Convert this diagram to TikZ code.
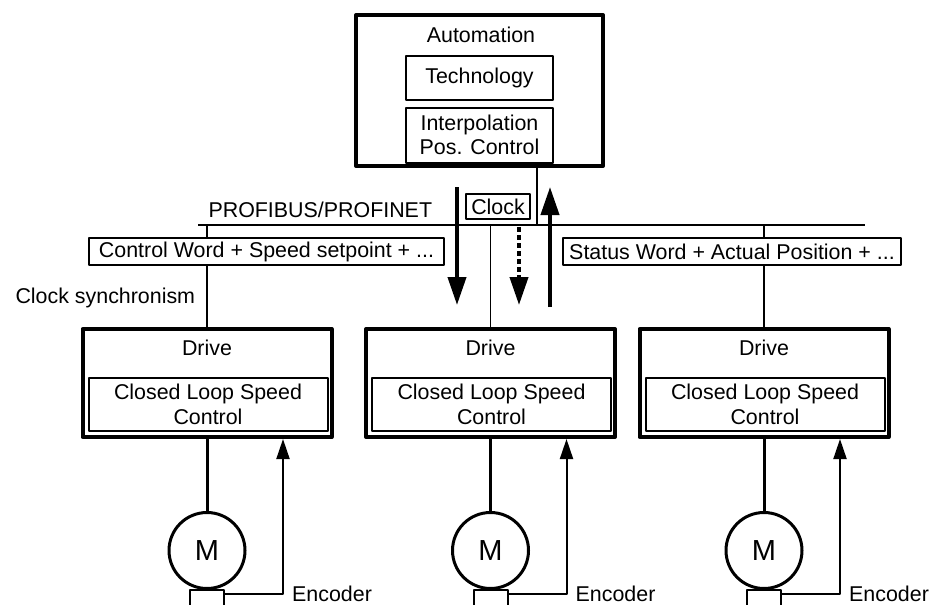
\documentclass[tikz,border=0pt]{standalone}
\usepackage{fontspec}
\setmainfont{Liberation Sans}
\usetikzlibrary{arrows.meta,calc}

\begin{document}
\begin{tikzpicture}[x=1pt,y=-1pt,font=\fontsize{21.4}{24.5}\selectfont,line join=round,
	frame/.style={draw,line width=4pt,inner sep=0pt},
	block/.style={draw,line width=2pt,fill=white,inner sep=0pt,align=center},
	wire/.style={line width=1.5pt},
	big/.style={line width=4pt,-{Triangle[length=28pt,width=18pt]}},
	fb/.style={line width=2pt,-{Triangle[length=20pt,width=13pt]}},
	motor/.style={circle,draw,line width=3pt,minimum size=76pt,inner sep=0pt,font=\fontsize{29}{30}\selectfont}]
	\useasboundingbox (0,0) rectangle (929,605);
	\clip (0,0) rectangle (929,605);
	% automation
	\node[frame,minimum width=247,minimum height=151] (auto) at (479.5,90.5) {};
	\node[anchor=base] (autot) at (481,42) {Automation};
	\node[block,minimum width=147,minimum height=44] (tech) at (479.5,77.5) {Technology};
	\node[block,minimum width=147,minimum height=55] (ipo) at (479.5,135) {Interpolation\\Pos. Control};
	% bus
	\coordinate (busL) at (198,225);
	\coordinate (busR) at (865,225);
	\coordinate (tap) at (537,225);
	\draw[wire] (busL) -- (busR);
	\draw[wire] (auto.south -| tap) -- (tap);
	\node[anchor=base west] (bust) at (205,217) {PROFIBUS/PROFINET};
	\node[block,minimum width=64,minimum height=25] (clk) at (498,206.5) {Clock};
	% drives
	\foreach \i/\x in {1/207,2/490.5,3/764}{
		\node[frame,minimum width=249,minimum height=108] (drv\i) at (\x,383) {};
		\node[anchor=base] (drvt\i) at (\x,355) {Drive};
		\node[block,minimum width=239,minimum height=53] (clc\i) at (\x+1,404.5) {Closed Loop Speed\\Control};
		\node[motor] (mot\i) at (\x,550.5) {M};
		\node[block,minimum width=34,minimum height=30] (enc\i) at (\x,605) {};
		\node[anchor=base west,inner sep=1pt] (enct\i) at (\x+84,601) {Encoder};
		\draw[wire] (drv\i.north) -- (drv\i.north |- busL);
		\draw[line width=3pt] (drv\i.south) -- (mot\i.north);
		\draw[fb] ([yshift=-5pt]enc\i.north east) -| ([xshift=76pt]drv\i.south);
	}
	% telegrams
	\node[block,minimum width=355,minimum height=27] (ctw) at (266.5,251.5) {Control Word + Speed setpoint + ...};
	\node[block,minimum width=338,minimum height=27] (stw) at (732,251.5) {Status Word + Actual Position + ...};
	\node[anchor=base west] (synct) at (12,303) {Clock synchronism};
	% data flow
	\coordinate (sp1) at (457,187);
	\coordinate (sp2) at (457,305);
	\coordinate (ck1) at (519,227);
	\coordinate (ck2) at (519,305);
	\coordinate (av1) at (550,307);
	\coordinate (av2) at (550,187);
	\draw[big] (sp1) -- (sp2);
	\draw[big,line cap=butt,dash pattern=on 5pt off 3pt] (ck1) -- (ck2);
	\draw[big] (av1) -- (av2);
\end{tikzpicture}
\end{document}
